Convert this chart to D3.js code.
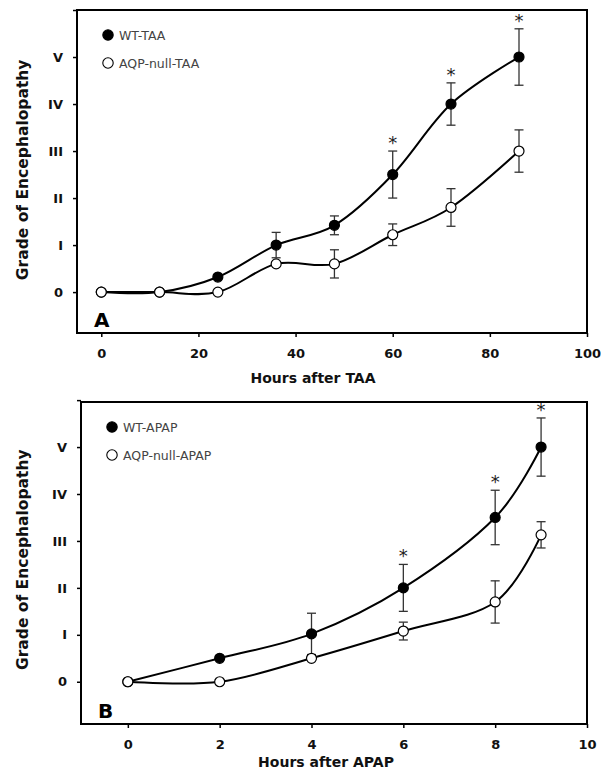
<!DOCTYPE html>
<html>
<head>
<meta charset="utf-8">
<script src="https://cdnjs.cloudflare.com/ajax/libs/d3/7.8.5/d3.min.js"></script>
<style>
body{margin:0;background:#fff;}
text{font-family:"DejaVu Sans",Verdana,sans-serif;}
</style>
</head>
<body>
<script>
// grade ticks
var gradeTicks = [0,1,2,3,4,5,6];
var gradeLabels = ["0","I","II","III","IV","V",""];

// panel A : thioacetamide
var taaHours = [0,12,24,36,48,60,72,86];
var wtTaa = [0,0,0.32,1.0,1.42,2.5,4.0,5.0];
var wtTaaErr = [0,0,0,0.27,0.2,0.5,0.45,0.6];
var aqpTaa = [0,0,0,0.6,0.6,1.22,1.8,3.0];
var aqpTaaErr = [0,0,0,0,0.3,0.23,0.4,0.45];
var taaStars = [60,72,86];
var taaTicks = [0,20,40,60,80,100];

// panel B : acetaminophen
var apapHours = [0,2,4,6,8,9];
var wtApap = [0,0.5,1.02,2.0,3.5,5.0];
var wtApapErr = [0,0,0.44,0.5,0.58,0.62];
var aqpApap = [0,0,0.5,1.08,1.7,3.13];
var aqpApapErr = [0,0,0,0.19,0.45,0.28];
var apapStars = [6,8,9];
var apapTicks = [0,2,4,6,8,10];

var svg = d3.select("body").append("svg").attr("width",601).attr("height",771);

function panel(opt){
    var w = opt.right-opt.left, h = opt.bottom-opt.top;
    var g = svg.append("g").attr("transform","translate("+opt.left+","+opt.top+")");
    var x = d3.scaleLinear().domain(opt.xdom).range([0,w]);
    var y = d3.scaleLinear().domain(opt.ydom).range([h,0]);

    // frame
    g.append("rect").attr("x",0).attr("y",0).attr("width",w).attr("height",h)
        .attr("fill","none").attr("stroke","#000").attr("stroke-width",2);

    var yAxis = d3.axisLeft(y).tickValues(gradeTicks)
        .tickFormat(function(d,i){return gradeLabels[i];})
        .tickSize(4).tickPadding(10);
    var xAxis = d3.axisBottom(x).tickValues(opt.xticks).tickSize(4).tickPadding(12);

    var ya = g.append("g").call(yAxis);
    var xa = g.append("g").attr("transform","translate(0,"+h+")").call(xAxis);
    [ya,xa].forEach(function(a){
        a.select(".domain").remove();
        a.selectAll("line").attr("stroke","#000").attr("stroke-width",1.5);
        a.selectAll("text").attr("font-size",13).attr("font-weight","bold").attr("fill","#111");
    });

    g.append("text").attr("x",w/2+opt.titleDx).attr("y",h+opt.titleDy).attr("text-anchor","middle")
        .attr("font-size",14).attr("font-weight","bold").attr("fill","#111").text(opt.xtitle);
    g.append("text").attr("transform","translate("+(-opt.left+28)+","+(y(2.6))+") rotate(-90)")
        .attr("text-anchor","middle").attr("font-size",15.5).attr("font-weight","bold")
        .attr("fill","#111").text("Grade of Encephalopathy");

    g.append("text").attr("x",17).attr("y",h-6).attr("font-size",20).attr("font-weight","bold")
        .attr("fill","#000").text(opt.letter);

    var line = d3.line().x(function(d){return x(d.t);}).y(function(d){return y(d.v);})
        .curve(d3.curveCardinal.tension(0));

    opt.series.forEach(function(s){
        var pts = opt.hours.map(function(t,i){return {t:t,v:s.vals[i],e:s.errs[i]};});
        g.append("path").datum(pts).attr("d",line).attr("fill","none")
            .attr("stroke","#000").attr("stroke-width",2);
        var eb = g.selectAll(null).data(pts.filter(function(d){return d.e>0;})).enter().append("g")
            .attr("stroke","#333").attr("stroke-width",1.3);
        eb.append("line").attr("x1",function(d){return x(d.t);}).attr("x2",function(d){return x(d.t);})
            .attr("y1",function(d){return y(d.v+d.e);}).attr("y2",function(d){return y(d.v-d.e);});
        [1,-1].forEach(function(sg){
            eb.append("line").attr("x1",function(d){return x(d.t)-4.5;}).attr("x2",function(d){return x(d.t)+4.5;})
                .attr("y1",function(d){return y(d.v+sg*d.e);}).attr("y2",function(d){return y(d.v+sg*d.e);});
        });
        g.selectAll(null).data(pts).enter().append("circle")
            .attr("cx",function(d){return x(d.t);}).attr("cy",function(d){return y(d.v);})
            .attr("r",5).attr("fill",s.fill).attr("stroke","#000").attr("stroke-width",1.2);
        if(s.stars){
            g.selectAll(null).data(pts.filter(function(d){return s.stars.indexOf(d.t)>=0;})).enter()
                .append("text").attr("x",function(d){return x(d.t);})
                .attr("y",function(d){return y(d.v+d.e)-2;})
                .attr("text-anchor","middle").attr("font-size",18).attr("fill","#222").text("*");
        }
    });

    // legend
    opt.series.forEach(function(s,i){
        var ly = 25+i*28;
        g.append("circle").attr("cx",31).attr("cy",ly).attr("r",5.2)
            .attr("fill",s.fill).attr("stroke","#000").attr("stroke-width",1.1);
        g.append("text").attr("x",42).attr("y",ly+4.5).attr("font-size",12.5)
            .attr("fill","#444").text(s.name);
    });
}

panel({left:77,right:587,top:10,bottom:333,xdom:[-5,100],ydom:[-0.87,6],xticks:taaTicks,
    hours:taaHours,xtitle:"Hours after TAA",letter:"A",titleDx:-19,titleDy:50,
    series:[{name:"WT-TAA",vals:wtTaa,errs:wtTaaErr,fill:"#000",stars:taaStars},
            {name:"AQP-null-TAA",vals:aqpTaa,errs:aqpTaaErr,fill:"#fff"}]});

panel({left:81,right:587,top:402,bottom:724,xdom:[-1.02,10],ydom:[-0.9,5.96],xticks:apapTicks,
    hours:apapHours,xtitle:"Hours after APAP",letter:"B",titleDx:-8,titleDy:43,
    series:[{name:"WT-APAP",vals:wtApap,errs:wtApapErr,fill:"#000",stars:apapStars},
            {name:"AQP-null-APAP",vals:aqpApap,errs:aqpApapErr,fill:"#fff"}]});
</script>
</body>
</html>
